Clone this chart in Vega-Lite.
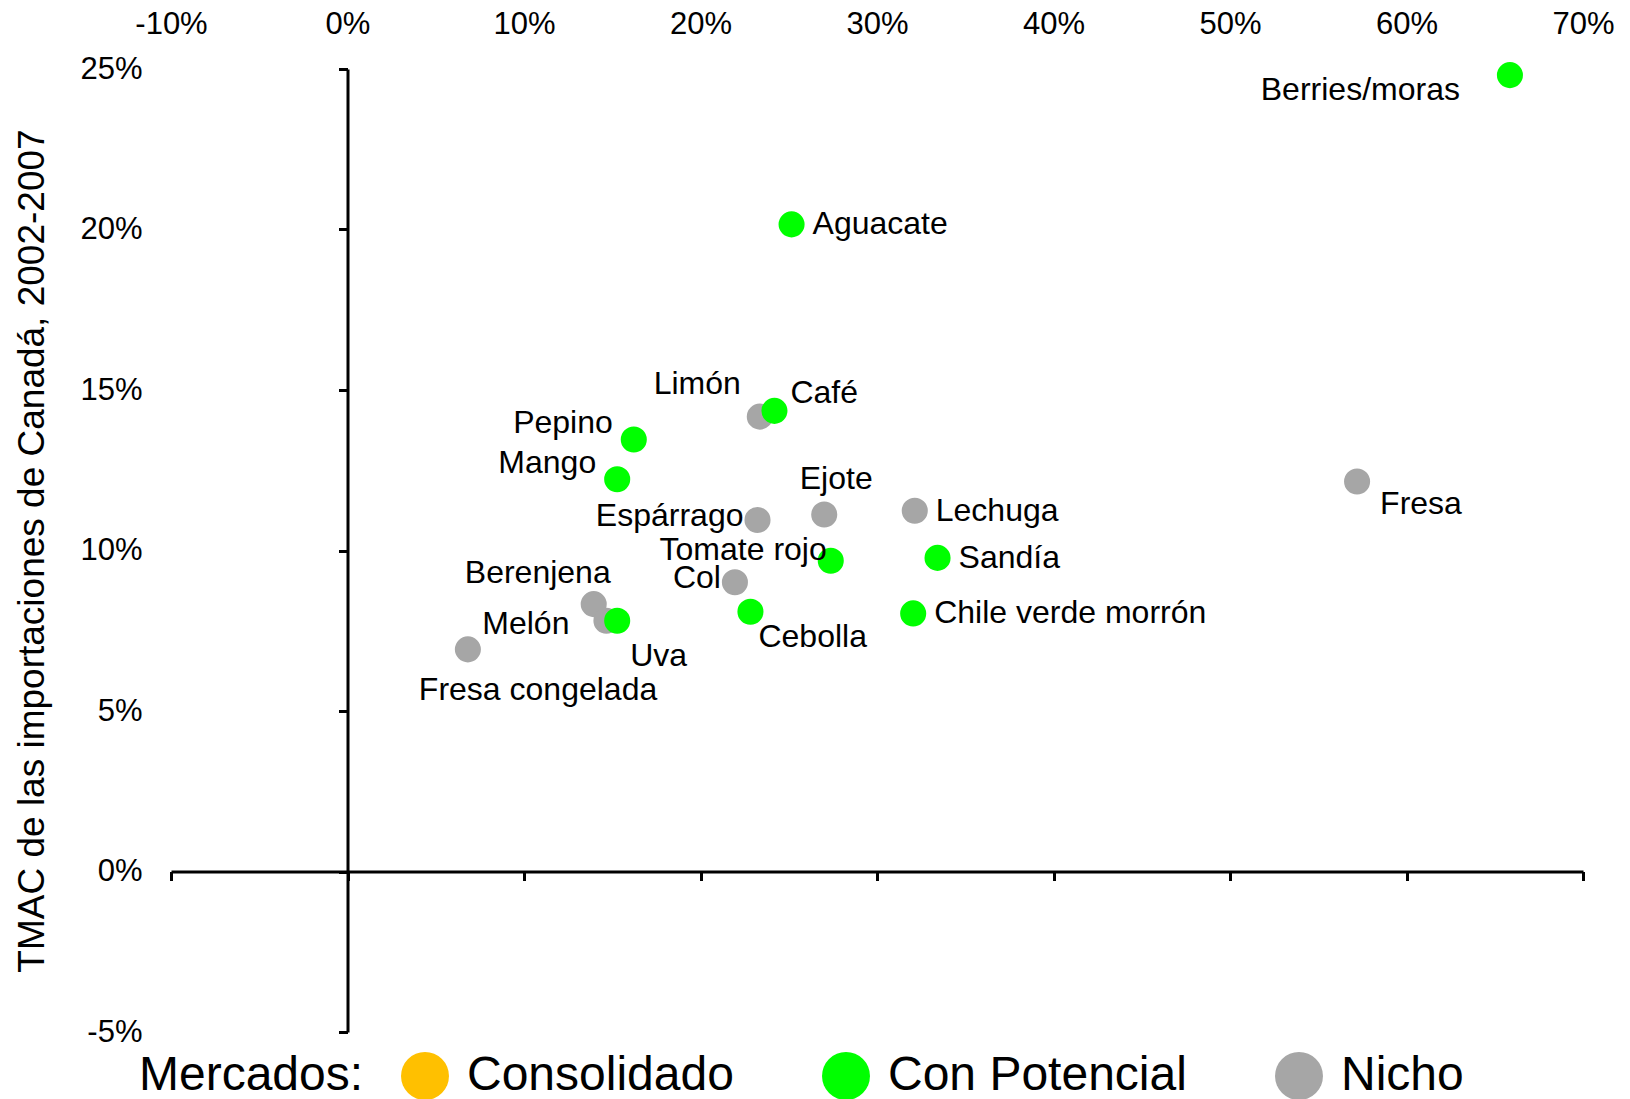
{
  "$schema": "https://vega.github.io/schema/vega-lite/v6.json",
  "width": 1412,
  "height": 963,
  "autosize": {"type": "none"},
  "padding": {"left": 171, "top": 69, "right": 47, "bottom": 67},
  "background": "white",
  "config": {"view": {"stroke": null}, "font": "Liberation Sans", "axis": {"grid": false}},
  "data": {
    "values": [
      {"name": "Limón", "mercado": "Nicho", "x": 23.36, "y": 14.17, "pos": "arriba-izquierda-alto"},
      {"name": "Espárrago", "mercado": "Nicho", "x": 23.23, "y": 10.95, "pos": "izquierda"},
      {"name": "Ejote", "mercado": "Nicho", "x": 27.01, "y": 11.12, "pos": "arriba"},
      {"name": "Lechuga", "mercado": "Nicho", "x": 32.14, "y": 11.24, "pos": "derecha"},
      {"name": "Fresa", "mercado": "Nicho", "x": 57.2, "y": 12.15, "pos": "derecha-abajo"},
      {"name": "Col", "mercado": "Nicho", "x": 21.95, "y": 9.01, "pos": "izquierda"},
      {"name": "Berenjena", "mercado": "Nicho", "x": 13.95, "y": 8.33, "pos": "arriba-centro"},
      {"name": "Melón", "mercado": "Nicho", "x": 14.67, "y": 7.81, "pos": "izquierda-lejos"},
      {"name": "Fresa congelada", "mercado": "Nicho", "x": 6.82, "y": 6.92, "pos": "abajo-izquierda"},
      {"name": "Berries/moras", "mercado": "Con Potencial", "x": 65.86, "y": 24.81, "pos": "izquierda-abajo"},
      {"name": "Aguacate", "mercado": "Con Potencial", "x": 25.16, "y": 20.16, "pos": "derecha"},
      {"name": "Café", "mercado": "Con Potencial", "x": 24.19, "y": 14.35, "pos": "arriba-derecha"},
      {"name": "Pepino", "mercado": "Con Potencial", "x": 16.22, "y": 13.46, "pos": "arriba-izquierda"},
      {"name": "Mango", "mercado": "Con Potencial", "x": 15.28, "y": 12.22, "pos": "arriba-izquierda"},
      {"name": "Sandía", "mercado": "Con Potencial", "x": 33.43, "y": 9.77, "pos": "derecha"},
      {"name": "Tomate rojo", "mercado": "Con Potencial", "x": 27.38, "y": 9.68, "pos": "izquierda-arriba"},
      {"name": "Cebolla", "mercado": "Con Potencial", "x": 22.83, "y": 8.09, "pos": "abajo"},
      {"name": "Chile verde morrón", "mercado": "Con Potencial", "x": 32.05, "y": 8.04, "pos": "derecha"},
      {"name": "Uva", "mercado": "Con Potencial", "x": 15.28, "y": 7.81, "pos": "abajo-derecha"}
    ]
  },
  "encoding": {
    "x": {"field": "x", "type": "quantitative", "scale": {"domain": [-10, 70], "nice": false, "zero": false}, "axis": null},
    "y": {"field": "y", "type": "quantitative", "scale": {"domain": [-5, 25], "nice": false, "zero": false}, "axis": null}
  },
  "layer": [
    {
      "mark": {"type": "point", "shape": "circle", "filled": true, "size": 680, "opacity": 1, "strokeWidth": 0},
      "encoding": {
        "x": {"field": "x", "type": "quantitative", "scale": {"domain": [-10, 70], "nice": false, "zero": false},
          "axis": {"orient": "top", "values": [-10, 0, 10, 20, 30, 40, 50, 60, 70], "labelExpr": "datum.value + '%'", "domain": false, "ticks": false, "tickSize": 0, "labelPadding": 29, "labelFontSize": 31, "labelFont": "Liberation Sans", "labelColor": "black", "labelFlush": false, "labelOverlap": false, "labelBound": false, "title": null, "grid": false}},
        "y": {"field": "y", "type": "quantitative", "scale": {"domain": [-5, 25], "nice": false, "zero": false},
          "axis": {"orient": "left", "values": [-5, 0, 5, 10, 15, 20, 25], "labelExpr": "datum.value + '%'", "domain": false, "ticks": false, "tickSize": 0, "labelPadding": 29, "labelFontSize": 31, "labelFont": "Liberation Sans", "labelColor": "black", "labelFlush": false, "labelOverlap": false, "labelBound": false, "grid": false,
            "title": "TMAC de las importaciones de Canadá, 2002-2007", "titleFontSize": 37, "titleFont": "Liberation Sans", "titleFontWeight": "normal", "titleColor": "black", "titleX": -128, "titleY": 481.5, "titleAngle": 270, "titleAlign": "center", "titleBaseline": "alphabetic"}},
        "color": {"field": "mercado", "type": "nominal", "scale": {"domain": ["Consolidado", "Con Potencial", "Nicho"], "range": ["#FFC000", "#00FF00", "#A6A6A6"]},
          "legend": {"orient": "none", "legendX": -32, "legendY": 983, "direction": "horizontal", "title": "Mercados:", "titleOrient": "left", "titleAnchor": "middle", "titleBaseline": "middle", "titleFontSize": 48, "titleFont": "Liberation Sans", "titleFontWeight": "normal", "titleColor": "black", "titlePadding": 37, "titleLimit": 800, "labelFontSize": 48, "labelFont": "Liberation Sans", "labelColor": "black", "labelOffset": 18, "labelLimit": 800, "symbolSize": 2300, "symbolType": "circle", "symbolStrokeWidth": 0, "symbolOpacity": 1, "columnPadding": 88, "padding": 0}}
      }
    },
    {
      "mark": {"type": "point", "shape": "circle", "filled": true, "size": 680, "opacity": 0},
      "encoding": {
        "x": {"field": "x", "type": "quantitative", "scale": {"domain": [-10, 70], "nice": false, "zero": false},
          "axis": {"orient": "bottom", "offset": -160.5, "values": [-10, 0, 10, 20, 30, 40, 50, 60, 70], "labels": false, "domain": true, "domainColor": "black", "domainWidth": 3, "ticks": true, "tickColor": "black", "tickWidth": 3, "tickSize": 9, "title": null, "grid": false}},
        "y": {"field": "y", "type": "quantitative", "scale": {"domain": [-5, 25], "nice": false, "zero": false},
          "axis": {"orient": "left", "offset": -176.5, "values": [-5, 0, 5, 10, 15, 20, 25], "labels": false, "domain": true, "domainColor": "black", "domainWidth": 3, "ticks": true, "tickColor": "black", "tickWidth": 3, "tickSize": 9, "title": null, "grid": false}}
      }
    },
    {"transform": [{"filter": "datum.pos == 'derecha'"}], "mark": {"type": "text", "align": "left", "baseline": "middle", "dx": 21, "dy": 0, "fontSize": 32, "font": "Liberation Sans", "color": "black"}, "encoding": {"text": {"field": "name"}}},
    {"transform": [{"filter": "datum.pos == 'izquierda'"}], "mark": {"type": "text", "align": "right", "baseline": "middle", "dx": -14, "dy": -4, "fontSize": 32, "font": "Liberation Sans", "color": "black"}, "encoding": {"text": {"field": "name"}}},
    {"transform": [{"filter": "datum.pos == 'arriba-izquierda'"}], "mark": {"type": "text", "align": "right", "baseline": "middle", "dx": -21, "dy": -16, "fontSize": 32, "font": "Liberation Sans", "color": "black"}, "encoding": {"text": {"field": "name"}}},
    {"transform": [{"filter": "datum.pos == 'arriba-derecha'"}], "mark": {"type": "text", "align": "left", "baseline": "middle", "dx": 16, "dy": -18, "fontSize": 32, "font": "Liberation Sans", "color": "black"}, "encoding": {"text": {"field": "name"}}},
    {"transform": [{"filter": "datum.pos == 'abajo'"}], "mark": {"type": "text", "align": "left", "baseline": "middle", "dx": 8, "dy": 25, "fontSize": 32, "font": "Liberation Sans", "color": "black"}, "encoding": {"text": {"field": "name"}}},
    {"transform": [{"filter": "datum.pos == 'abajo-derecha'"}], "mark": {"type": "text", "align": "left", "baseline": "middle", "dx": 13, "dy": 35, "fontSize": 32, "font": "Liberation Sans", "color": "black"}, "encoding": {"text": {"field": "name"}}},
    {"transform": [{"filter": "datum.pos == 'derecha-abajo'"}], "mark": {"type": "text", "align": "left", "baseline": "middle", "dx": 23, "dy": 23, "fontSize": 32, "font": "Liberation Sans", "color": "black"}, "encoding": {"text": {"field": "name"}}},
    {"transform": [{"filter": "datum.pos == 'arriba-izquierda-alto'"}], "mark": {"type": "text", "align": "right", "baseline": "middle", "dx": -19, "dy": -33, "fontSize": 32, "font": "Liberation Sans", "color": "black"}, "encoding": {"text": {"field": "name"}}},
    {"transform": [{"filter": "datum.pos == 'arriba'"}], "mark": {"type": "text", "align": "center", "baseline": "middle", "dx": 12, "dy": -36, "fontSize": 32, "font": "Liberation Sans", "color": "black"}, "encoding": {"text": {"field": "name"}}},
    {"transform": [{"filter": "datum.pos == 'izquierda-arriba'"}], "mark": {"type": "text", "align": "right", "baseline": "middle", "dx": -4, "dy": -11, "fontSize": 32, "font": "Liberation Sans", "color": "black"}, "encoding": {"text": {"field": "name"}}},
    {"transform": [{"filter": "datum.pos == 'arriba-centro'"}], "mark": {"type": "text", "align": "right", "baseline": "middle", "dx": 17, "dy": -31, "fontSize": 32, "font": "Liberation Sans", "color": "black"}, "encoding": {"text": {"field": "name"}}},
    {"transform": [{"filter": "datum.pos == 'izquierda-lejos'"}], "mark": {"type": "text", "align": "right", "baseline": "middle", "dx": -37, "dy": 3, "fontSize": 32, "font": "Liberation Sans", "color": "black"}, "encoding": {"text": {"field": "name"}}},
    {"transform": [{"filter": "datum.pos == 'izquierda-abajo'"}], "mark": {"type": "text", "align": "right", "baseline": "middle", "dx": -50, "dy": 15, "fontSize": 32, "font": "Liberation Sans", "color": "black"}, "encoding": {"text": {"field": "name"}}},
    {"transform": [{"filter": "datum.pos == 'abajo-izquierda'"}], "mark": {"type": "text", "align": "left", "baseline": "middle", "dx": -49, "dy": 41, "fontSize": 32, "font": "Liberation Sans", "color": "black"}, "encoding": {"text": {"field": "name"}}}
  ],
  "resolve": {"axis": {"x": "independent", "y": "independent"}}
}
